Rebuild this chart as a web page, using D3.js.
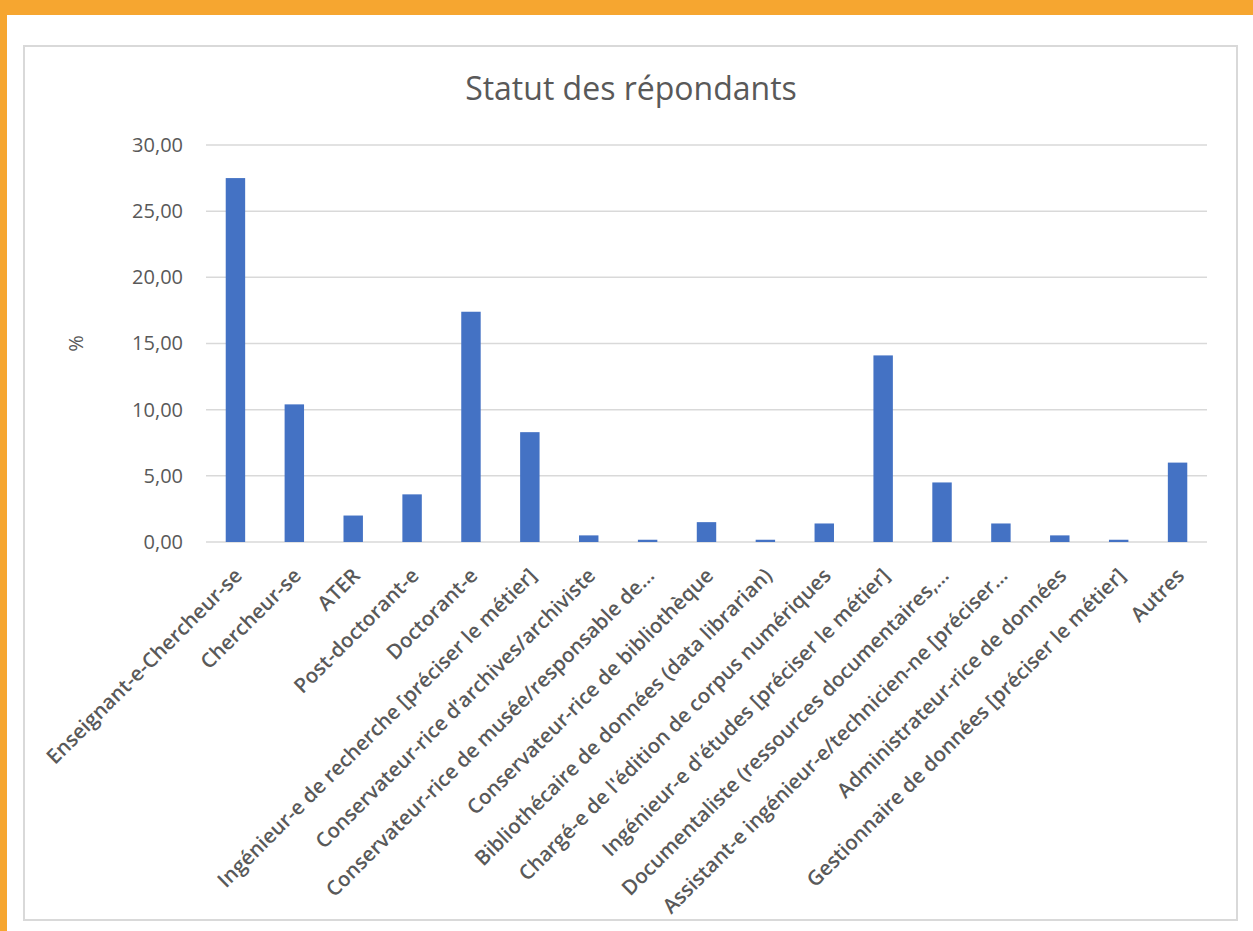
<!DOCTYPE html>
<html>
<head>
<meta charset="utf-8">
<script src="https://cdn.jsdelivr.net/npm/d3@7"></script>
<style>
  body { margin: 0; background: #fff; }
  text { font-family: "Open Sans", "Noto Sans", sans-serif; fill: #595959; }
</style>
</head>
<body>
<script>
// data
var categories = [
  "Enseignant-e-Chercheur-se", "Chercheur-se", "ATER", "Post-doctorant-e", "Doctorant-e",
  "Ingénieur-e de recherche [préciser le métier]", "Conservateur-rice d’archives/archiviste",
  "Conservateur-rice de musée/responsable de…", "Conservateur-rice de bibliothèque",
  "Bibliothécaire de données (data librarian)", "Chargé-e de l'édition de corpus numériques",
  "Ingénieur-e d'études [préciser le métier]", "Documentaliste (ressources documentaires,…",
  "Assistant-e ingénieur-e/technicien-ne [préciser…", "Administrateur-rice de données",
  "Gestionnaire de données [préciser le métier]", "Autres"
];
var values = [27.5, 10.4, 2.0, 3.6, 17.4, 8.3, 0.5, 0.17, 1.5, 0.17, 1.4, 14.1, 4.5, 1.4, 0.5, 0.17, 6.0];
var yTicks = [0, 5, 10, 15, 20, 25, 30];

var W = 1253, H = 931;
var pLeft = 206, pRight = 1207, pTop = 145, pBottom = 542;

var svg = d3.select("body").append("svg")
  .attr("width", W)
  .attr("height", H);

// orange page edges
svg.append("rect").attr("x", 0).attr("y", 0).attr("width", W).attr("height", 15).attr("fill", "#F6A630");
svg.append("rect").attr("x", 0).attr("y", 0).attr("width", 7).attr("height", H).attr("fill", "#F6A630");

// chart frame
svg.append("rect")
  .attr("x", 24).attr("y", 46)
  .attr("width", 1213).attr("height", 874)
  .attr("fill", "#fff")
  .attr("stroke", "#D9D9D9")
  .attr("stroke-width", 2);

var x = d3.scaleBand()
  .domain(categories)
  .range([pLeft, pRight])
  .paddingInner(0.67)
  .paddingOuter(0.335);

var y = d3.scaleLinear()
  .domain([0, 30])
  .range([pBottom, pTop]);

var fr = d3.formatLocale({decimal: ",", thousands: " ", grouping: [3], currency: ["", "€"]});
var fmt = fr.format(".2f");

// gridlines
svg.append("g")
  .selectAll("line")
  .data(yTicks)
  .enter()
  .append("line")
  .attr("x1", pLeft).attr("x2", pRight)
  .attr("y1", function(d) { return y(d); })
  .attr("y2", function(d) { return y(d); })
  .attr("stroke", "#D9D9D9")
  .attr("stroke-width", 1.5);

// y axis labels
var yAxis = d3.axisLeft(y)
  .tickValues(yTicks)
  .tickFormat(fmt)
  .tickSize(0)
  .tickPadding(23);

var ga = svg.append("g")
  .attr("transform", "translate(" + pLeft + ",0)")
  .call(yAxis);
ga.select(".domain").remove();
ga.selectAll("text")
  .style("font-size", "20px")
  .style("font-family", "'Open Sans', sans-serif")
  .attr("fill", "#595959");

// bars
svg.append("g")
  .selectAll("rect")
  .data(values)
  .enter()
  .append("rect")
  .attr("x", function(d, i) { return x(categories[i]); })
  .attr("width", x.bandwidth())
  .attr("y", function(d) { return y(d); })
  .attr("height", function(d) { return y(0) - y(d); })
  .attr("fill", "#4472C4");

// x labels, rotated
svg.append("g")
  .selectAll("text")
  .data(categories)
  .enter()
  .append("text")
  .attr("transform", function(d) {
    return "translate(" + (x(d) + x.bandwidth() / 2 + 8) + "," + (pBottom + 35) + ") rotate(-45)";
  })
  .attr("text-anchor", "end")
  .style("font-size", "20.5px")
  .style("font-weight", "600")
  .text(function(d) { return d; });

// title
svg.append("text")
  .attr("x", 631)
  .attr("y", 100)
  .attr("text-anchor", "middle")
  .style("font-size", "32px")
  .text("Statut des répondants");

// y axis title
svg.append("text")
  .attr("transform", "translate(83," + ((pTop + pBottom) / 2) + ") rotate(-90)")
  .attr("text-anchor", "middle")
  .style("font-size", "20px")
  .text("%");
</script>
</body>
</html>
